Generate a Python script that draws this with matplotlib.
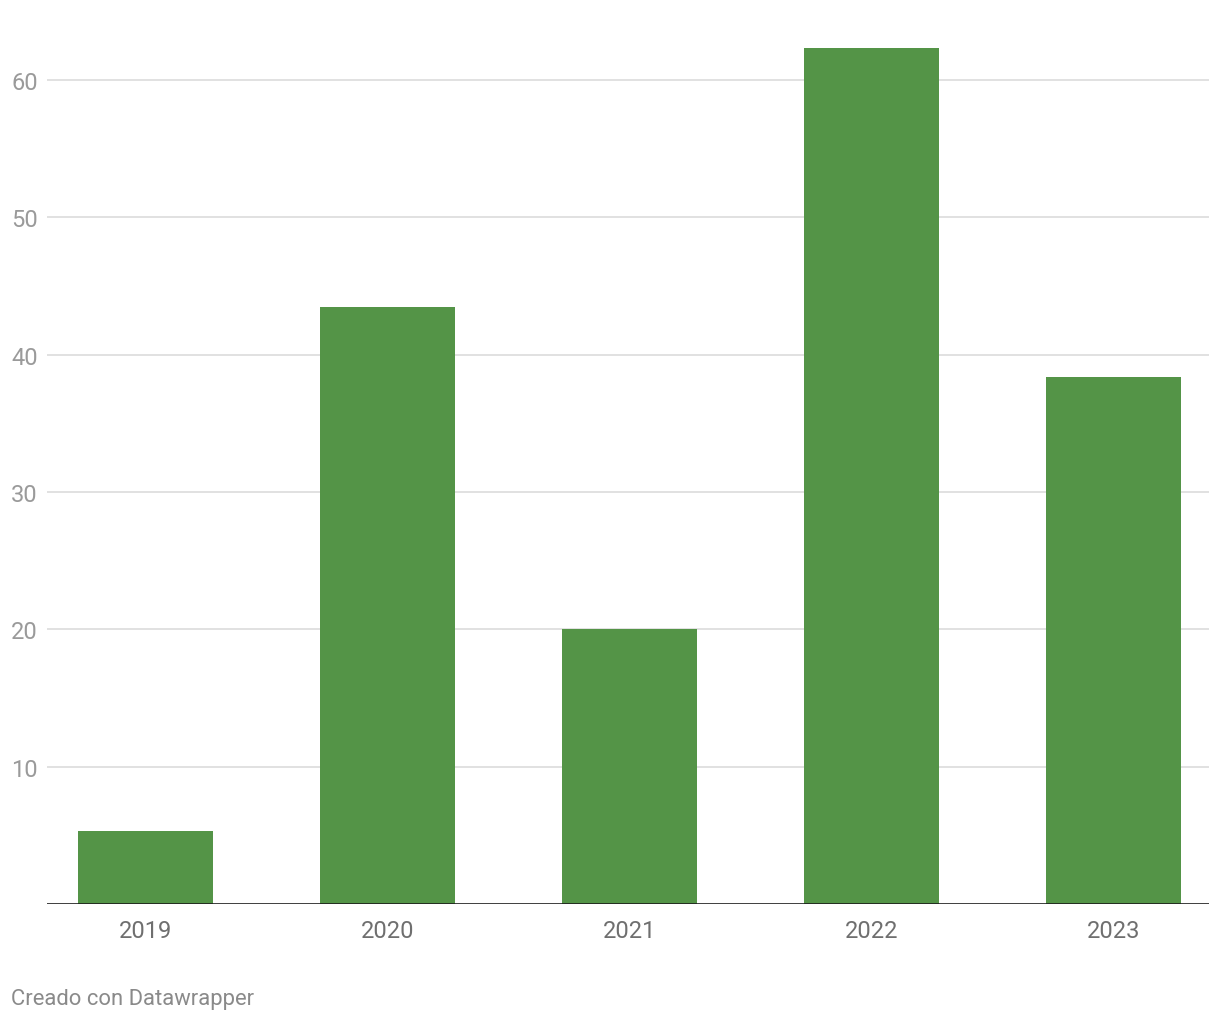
import matplotlib
matplotlib.use("Agg")
import matplotlib.pyplot as plt

years = ["2019", "2020", "2021", "2022", "2023"]
values = [5.3, 43.5, 20.0, 62.3, 38.4]
yticks = [10, 20, 30, 40, 50, 60]

plt.rcParams['font.family'] = ['Roboto', 'DejaVu Sans']

W, H = 1220, 1020
fig = plt.figure(figsize=(W / 100, H / 100), dpi=100)
left, right, bottom_px = 47, 1209, 905
ymax = 65
px_per_unit = (903 - 79) / 60.0
top_px = bottom_px - ymax * px_per_unit
ax = fig.add_axes([left / W, (H - bottom_px) / H, (right - left) / W, (bottom_px - top_px) / H])

x = list(range(len(years)))
ax.bar(x, values, width=0.558, color="#549447", zorder=3)
ax.set_xlim(-0.407, 4.395)
ax.set_ylim(0, ymax)

ax.set_yticks(yticks)
ax.set_yticklabels([str(v) for v in yticks])
ax.set_xticks(x)
ax.set_xticklabels(years)

for v in yticks:
    ax.axhline(v, color="#e1e1e1", lw=1.4, zorder=1)
ax.axhline(0, color="#1a1a1a", lw=1.9, zorder=4)

for s in ax.spines.values():
    s.set_visible(False)

ax.tick_params(axis='y', length=0, pad=25.9, labelsize=17, labelcolor="#9a9a9a")
for lbl in ax.get_yticklabels():
    lbl.set_horizontalalignment('left')
ax.tick_params(axis='x', length=0, pad=11, labelsize=17, labelcolor="#6f6f6f")

fig.text(11 / W, (H - 1005) / H, "Creado con Datawrapper", ha='left', va='baseline',
         fontsize=15.8, color="#8a8a8a")

fig.savefig("out.png", dpi=100, facecolor="white")
